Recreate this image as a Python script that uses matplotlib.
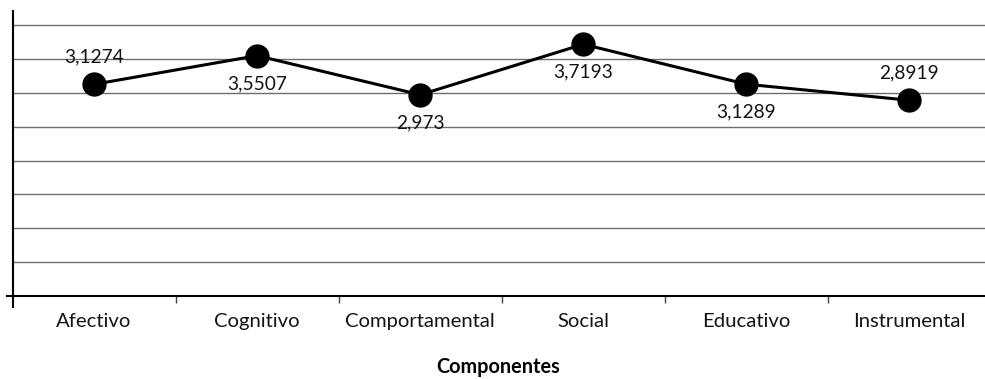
import matplotlib
matplotlib.use("Agg")
import matplotlib.pyplot as plt
from matplotlib.lines import Line2D

plt.rcParams['font.family'] = ['Lato', 'DejaVu Sans']

# Mean score per component
componentes = ["Afectivo", "Cognitivo", "Comportamental", "Social", "Educativo", "Instrumental"]
medias = [3.1274, 3.5507, 2.973, 3.7193, 3.1289, 2.8919]
# Where each value label sits relative to its point
lado_etiqueta = ["above", "below", "below", "below", "below", "above"]
grid_levels = [0.5, 1.0, 1.5, 2.0, 2.5, 3.0, 3.5, 4.0]

W, H = 985, 379
fig = plt.figure(figsize=(W / 100, H / 100), dpi=100)
ax_left, ax_right = 12.5, 991.0
ax_bottom, ax_top = 296.0, 10.7
ax = fig.add_axes([ax_left / W, (H - ax_bottom) / H,
                   (ax_right - ax_left) / W, (ax_bottom - ax_top) / H])

x = list(range(len(componentes)))
ax.set_xlim(-0.5, len(componentes) - 0.5)
ax.set_ylim(0, 4.215)

for g in grid_levels:
    ax.axhline(g, color="#6e6e6e", lw=1.0, zorder=1)

ax.plot(x, medias, color="black", lw=2.2, marker="o", markersize=16.5,
        markerfacecolor="black", markeredgecolor="black", zorder=3)

for xi, v, side in zip(x, medias, lado_etiqueta):
    dy = 20 if side == "above" else -20
    ax.annotate(f"{v}".replace(".", ","), (xi, v), xytext=(0, dy),
                textcoords="offset points", ha="center", va="center",
                fontsize=13.8, color="#141414", zorder=4)

# Axis lines
for s in ["top", "right", "left", "bottom"]:
    ax.spines[s].set_visible(False)
ax.add_line(Line2D([0, 0], [-11 / 285.3, 1], transform=ax.transAxes,
                   color="black", lw=1.5, clip_on=False, zorder=5))
ax.add_line(Line2D([-6 / 978.5, 1], [0, 0], transform=ax.transAxes,
                   color="black", lw=1.5, clip_on=False, zorder=5))

ax.set_yticks([])
ax.set_xticks(x)
ax.set_xticklabels(componentes, fontsize=14.6, color="#141414")
ax.tick_params(axis="x", which="major", length=0, pad=12)
ax.set_xticks([i + 0.5 for i in x[:-1]], minor=True)
ax.tick_params(axis="x", which="minor", length=5, width=1.0, color="#444444",
               direction="out")

fig.text((W / 2 + 6) / W, (H - 367) / H, "Componentes", ha="center", va="center",
         fontsize=14.3, fontweight="bold", color="black")

fig.savefig("out.png", dpi=100)
